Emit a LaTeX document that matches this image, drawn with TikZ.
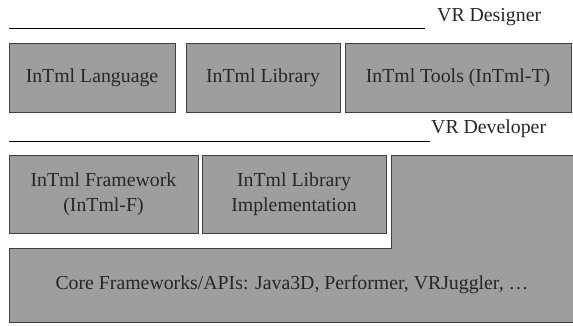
\documentclass[tikz,border=0pt]{standalone}
\usepackage{fontspec}
\setmainfont{Liberation Serif}
\tikzset{
  blk/.style={draw=black!75, line width=0.9pt, fill=boxgray, inner sep=0pt, align=center,
    font=\fontsize{19.8}{24.5}\selectfont, text=black!85},
  lbl/.style={inner sep=0pt, anchor=west, font=\fontsize{19.8}{24.5}\selectfont, text=black!85},
  rule/.style={draw=black, line width=0.9pt}
}
\definecolor{boxgray}{RGB}{158,158,158}
\begin{document}
\begin{tikzpicture}[x=1pt,y=-1pt]
\useasboundingbox (0,0) rectangle (573,325);
% designer level
\coordinate (d1) at (9,28.5);
\coordinate (d2) at (425,28.5);
\draw[rule] (d1) -- (d2);
\node[lbl] (designer) at (437,17) {VR Designer};
\node[blk, minimum width=166pt, minimum height=69pt] (lang) at (92,77.5) {InTml Language};
\node[blk, minimum width=154pt, minimum height=69pt] (lib) at (263,77.5) {InTml Library};
\node[blk, minimum width=226pt, minimum height=69pt] (tools) at (458,77.5) {InTml Tools (InTml-T)};
% developer level
\coordinate (v1) at (9,141.5);
\coordinate (v2) at (430,141.5);
\draw[rule] (v1) -- (v2);
\node[lbl] (developer) at (431,128.5) {VR Developer};
\node[blk, minimum width=189pt, minimum height=78pt] (fw) at (103.5,194) {InTml Framework\\(InTml-F)};
\node[blk, minimum width=184pt, minimum height=78pt] (libimpl) at (294,194) {InTml Library\\Implementation};
% core L-shape
\draw[draw=black!75, line width=0.9pt, fill=boxgray]
  (391,155) -- (575,155) -- (575,322) -- (9,322) -- (9,248) -- (391,248) -- cycle;
\node[lbl, anchor=center] (core) at (292,285) {Core Frameworks/APIs: Java3D, Performer, VRJuggler, …};
\end{tikzpicture}
\end{document}
